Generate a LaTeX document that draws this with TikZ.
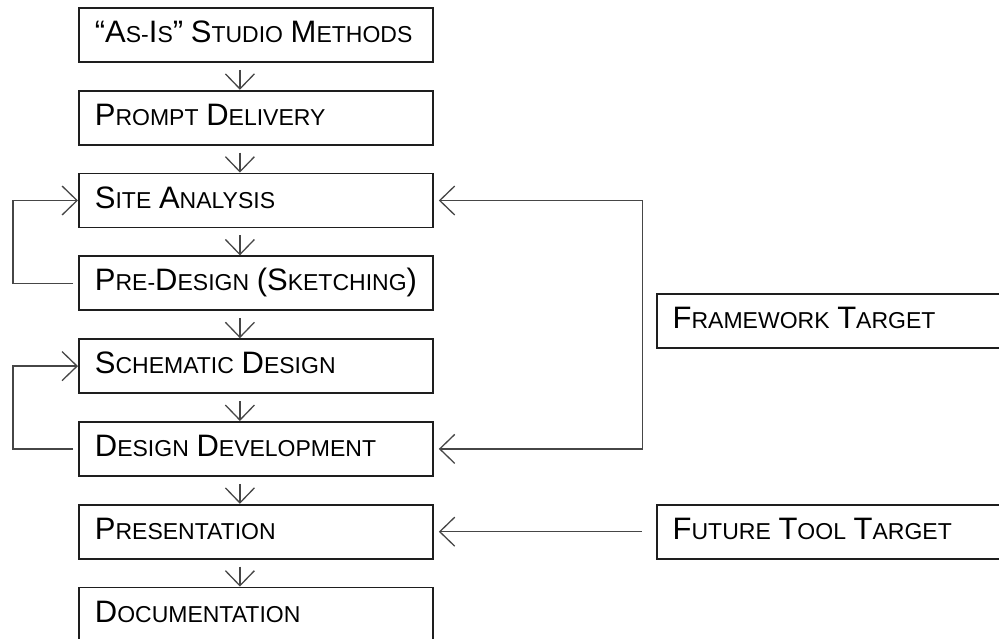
\documentclass[tikz,border=0pt]{standalone}
\usepackage{fontspec}
\setmainfont{Liberation Sans}
\usetikzlibrary{positioning, arrows.meta, calc}
\definecolor{boxclr}{RGB}{30,30,30}
\definecolor{wireclr}{RGB}{70,70,70}
% large initial letter for the small-caps look
\newcommand{\ini}[1]{{\fontsize{31}{36}\selectfont #1}}

\begin{document}
\begin{tikzpicture}[
    font=\fontsize{23}{28}\selectfont,
    node distance=27pt,
    box/.style   ={draw=boxclr, line width=1.8pt, align=left,
                   text width=334pt, inner xsep=10pt, inner ysep=11.5pt,
                   text height=23pt, text depth=8pt},
    flow/.style  ={-{Straight Barb[length=15pt, width=29pt]},
                   draw=wireclr, line width=1.3pt},
]
\useasboundingbox (0,0) rectangle (999pt,-638pt);
\clip (0,0) rectangle (999pt,-638pt);

% =============== Studio process (left column) ===============
\node[box, anchor=north west] (asis) at (78pt,-7pt)
      {\hspace*{6pt}\ini{“}\ini{A}S-\ini{I}S\ini{”} \ini{S}TUDIO \ini{M}ETHODS};
\node[box, below=of asis]   (prompt) {\hspace*{6pt}\ini{P}ROMPT \ini{D}ELIVERY};
\node[box, below=of prompt] (site)   {\hspace*{6pt}\ini{S}ITE \ini{A}NALYSIS};
\node[box, below=of site]   (predes) {\hspace*{6pt}\ini{P}RE-\ini{D}ESIGN \ini{(}\ini{S}KETCHING\ini{)}};
\node[box, below=of predes] (schem)  {\hspace*{6pt}\ini{S}CHEMATIC \ini{D}ESIGN};
\node[box, below=of schem]  (devel)  {\hspace*{6pt}\ini{D}ESIGN \ini{D}EVELOPMENT};
\node[box, below=of devel]  (pres)   {\hspace*{6pt}\ini{P}RESENTATION};
\node[box, below=of pres]   (docu)   {\hspace*{6pt}\ini{D}OCUMENTATION};

% =============== Targets (right, running off the page) ===============
\node[box, right=222pt of predes, yshift=-38pt] (frame)  {\hspace*{6pt}\ini{F}RAMEWORK \ini{T}ARGET};
\node[box, right=222pt of pres]                 (future) {\hspace*{6pt}\ini{F}UTURE \ini{T}OOL \ini{T}ARGET};

% =============== Wires ===============
\foreach \a/\b in {asis/prompt, prompt/site, site/predes, predes/schem,
                   schem/devel, devel/pres, pres/docu}{%
  \draw[flow] ([xshift=-16pt, yshift=-7pt]\a.south) -- ([xshift=-16pt]\b.north);
}

% iteration loops on the left
\draw[flow, shorten <=5pt] (predes.west) -- ++(-65pt,0) |- (site.west);
\draw[flow, shorten <=5pt] (devel.west)  -- ++(-65pt,0) |- (schem.west);

% framework bracket
\coordinate (fwbar) at ($(site.east)+(209pt,0)$);
\draw[flow, shorten >=5pt] (fwbar) -- (site.east);
\draw[flow, shorten >=5pt] (fwbar) |- (devel.east);

% future tool
\draw[flow, shorten <=14pt, shorten >=5pt] (future.west) -- (pres.east);

\end{tikzpicture}
\end{document}
